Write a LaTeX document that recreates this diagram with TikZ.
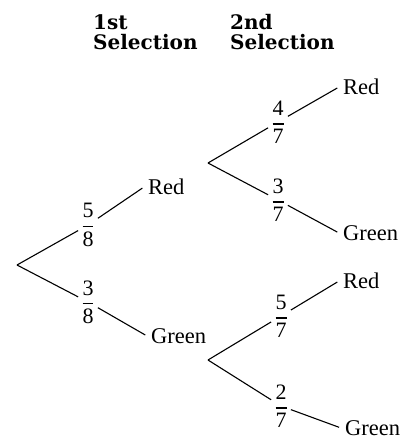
\documentclass[tikz,border=0pt]{standalone}
\usepackage{amsmath}
\usepackage{fontspec}
\setmainfont{Liberation Serif}
\newfontfamily\headfont{DejaVu Serif}
\usepackage{tikz}
\usetikzlibrary{positioning}
\newcommand{\prob}[2]{$\genfrac{}{}{1.2pt}{0}{\mbox{#1}}{\mbox{#2}}$}
\tikzset{
branch/.style={line width=1.1pt},
frac/.style={inner sep=3pt, font=\fontsize{22}{24}\selectfont},
outcome/.style={anchor=west, inner sep=4pt, font=\fontsize{22.5}{26}\selectfont},
heading/.style={anchor=north west, inner sep=0pt, align=left, font=\headfont\bfseries\fontsize{20}{20}\selectfont}
}

\begin{document}
\begin{tikzpicture}[x=1pt,y=-1pt]
\useasboundingbox (0,0) rectangle (406,440);
\node[heading] (head1) at (93,14) {1st\\Selection};
\node[heading] (head2) at (230,14) {2nd\\Selection};
% first selection
\coordinate (root1) at (17,265);
\node[frac] (p58) at (88,225) {\prob{5}{8}};
\node[frac] (p38) at (88,302) {\prob{3}{8}};
\node[outcome] (red1) at (144,187) {Red};
\node[outcome] (green1) at (147,336) {Green};
\draw[branch] (root1) -- (p58);
\draw[branch] (root1) -- (p38);
\draw[branch, shorten >=2pt] (p58) -- (red1.west);
\draw[branch, shorten >=2pt] (p38) -- (green1.west);
% second selection, after red
\coordinate (root2) at (208,163);
\node[frac] (p47) at (278,122) {\prob{4}{7}};
\node[frac] (p37) at (278,200) {\prob{3}{7}};
\node[outcome] (red2) at (339,87) {Red};
\node[outcome] (green2) at (339,233) {Green};
\draw[branch] (root2) -- (p47);
\draw[branch] (root2) -- (p37);
\draw[branch, shorten >=2pt] (p47) -- (red2.west);
\draw[branch, shorten >=2pt] (p37) -- (green2.west);
% second selection, after green
\coordinate (root3) at (208,360);
\node[frac] (p57) at (281,316) {\prob{5}{7}};
\node[frac] (p27) at (281,406) {\prob{2}{7}};
\node[outcome] (red3) at (339,281) {Red};
\node[outcome] (green3) at (341,428) {Green};
\draw[branch] (root3) -- (p57);
\draw[branch] (root3) -- (p27);
\draw[branch, shorten >=2pt] (p57) -- (red3.west);
\draw[branch, shorten >=2pt] (p27) -- (green3.west);
\end{tikzpicture}
\end{document}
